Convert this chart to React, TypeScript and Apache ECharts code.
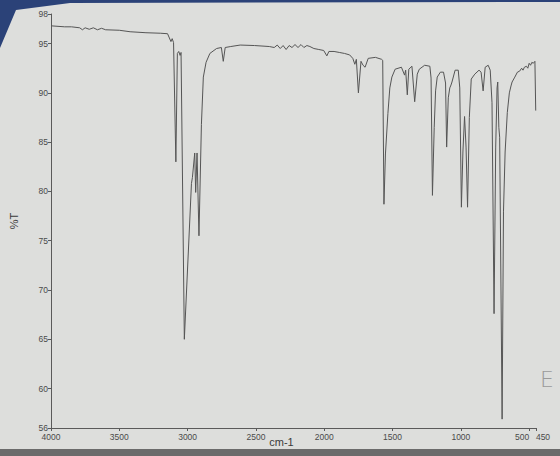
import React, { useEffect, useRef } from "react";
import * as echarts from "echarts";

const wavenumbers = [
  4000, 3900, 3850, 3790, 3770, 3750, 3720, 3690, 3660, 3630, 3600, 3500, 3421, 3305, 3200, 3147,
  3122, 3113, 3103, 3086, 3075, 3065, 3055, 3048, 3024, 2972, 2965, 2948, 2941, 2931, 2917, 2899,
  2885, 2865, 2837, 2788, 2753, 2739, 2725, 2684, 2615, 2510, 2402, 2366, 2344, 2322, 2301, 2279,
  2257, 2236, 2214, 2192, 2170, 2149, 2127, 2105, 2076, 2040, 2004, 1981, 1966, 1928, 1890, 1852,
  1814, 1791, 1776, 1765, 1750, 1731, 1716, 1701, 1678, 1625, 1580, 1572, 1563, 1552, 1534, 1520,
  1505, 1481, 1435, 1412, 1404, 1392, 1381, 1358, 1338, 1319, 1304, 1265, 1227, 1218, 1208, 1195,
  1185, 1173, 1150, 1127, 1112, 1104, 1092, 1081, 1072, 1065, 1042, 1019, 1008, 996, 985, 973,
  962, 951, 938, 924, 898, 867, 852, 837, 822, 800, 785, 772, 757, 745, 735, 730,
  722, 716, 698, 688, 676, 660, 645, 633, 625, 605, 586, 570, 555, 545, 535, 520,
  510, 500, 490, 480, 470, 458, 452, 450,
];

const transmittance = [
  96.8, 96.7, 96.7, 96.6, 96.4, 96.6, 96.45, 96.6, 96.4, 96.55, 96.4, 96.35, 96.2, 96.1, 96.05, 96.0,
  95.2, 95.5, 95.1, 83.0, 94.0, 94.2, 93.8, 94.1, 65.0, 80.8, 81.4, 83.9, 79.9, 83.9, 75.5, 86.8,
  91.6, 93.1, 94.0, 94.5, 94.6, 93.2, 94.6, 94.7, 94.85, 94.8, 94.7, 94.6, 94.85, 94.5, 94.8, 94.4,
  94.8, 94.6, 94.9, 94.6, 94.9, 94.6, 94.8, 94.7, 94.5, 94.4, 94.3, 93.75, 94.2, 94.2, 94.1, 94.0,
  93.85, 93.5, 92.9, 93.4, 90.0, 93.2, 92.8, 92.6, 93.5, 93.6, 93.4, 93.3, 78.7, 83.8, 87.9, 90.5,
  91.6, 92.4, 92.6, 91.8, 92.3, 89.8, 92.4, 92.7, 89.1, 91.9, 92.4, 92.8, 92.7, 91.5, 79.6, 86.5,
  90.2, 91.6, 92.1, 92.1, 91.0, 84.5, 89.5, 90.5, 90.8, 91.1, 92.3, 92.3, 90.5, 78.4, 84.0, 87.6,
  84.5, 78.4, 87.5, 91.4, 91.9, 92.3, 92.1, 90.2, 92.6, 92.8, 92.3, 89.0, 67.6, 84.5, 90.5, 91.1,
  86.5, 85.5, 56.9, 78.0, 84.0, 88.0, 90.0, 90.7, 91.1, 91.6, 92.1, 92.2, 92.5, 92.3, 92.6, 92.7,
  92.5, 93.0, 92.8, 93.1, 93.0, 93.2, 88.2, 88.2,
];

const xTickValues = [4000, 3500, 3000, 2500, 2000, 1500, 1000, 500, 450];
const yTickValues = [56, 60, 65, 70, 75, 80, 85, 90, 95, 98];

const labelColor = "#4a4a4a";
const axisColor = "#5a5a5a";

export default function App() {
  const ref = useRef<HTMLDivElement>(null);

  useEffect(() => {
    if (!ref.current) return;
    const chart = echarts.init(ref.current, undefined, { renderer: "svg" });
    const data = wavenumbers.map((w, i) => [w, transmittance[i]]);
    const labelFont = { fontFamily: "Liberation Sans", fontSize: 8.5, color: labelColor };
    chart.setOption({
      animation: false,
      backgroundColor: "#dddedc",
      grid: { left: 48, right: 24, top: 14, bottom: 28, containLabel: false },
      xAxis: {
        type: "value",
        min: 450,
        max: 4000,
        inverse: true,
        name: "cm-1",
        nameLocation: "middle",
        nameGap: 8,
        nameMoveOverlap: false,
        nameTextStyle: { fontFamily: "Liberation Sans", fontSize: 11, color: "#3a3a3a", padding: [0, 24, 0, 0] },
        splitLine: { show: false },
        axisLine: { lineStyle: { color: axisColor, width: 1 } },
        axisTick: { customValues: xTickValues, length: 3, lineStyle: { color: axisColor } },
        axisLabel: {
          customValues: xTickValues,
          margin: 4,
          ...labelFont,
          formatter: (v: number) =>
            v === 500 ? "{a|500}" : v === 450 ? "{b|450}" : String(v),
          rich: {
            a: { ...labelFont, padding: [0, 14, 0, 0] },
            b: { ...labelFont, padding: [0, 0, 0, 14] },
          },
        },
      },
      yAxis: {
        type: "value",
        min: 56,
        max: 98,
        name: "%T",
        nameLocation: "middle",
        nameGap: 32,
        nameMoveOverlap: false,
        nameTextStyle: { fontFamily: "Liberation Sans", fontSize: 11, color: "#3a3a3a" },
        splitLine: { show: false },
        axisLine: { show: true, lineStyle: { color: axisColor, width: 1 } },
        axisTick: { show: true, customValues: yTickValues, length: 3, lineStyle: { color: axisColor } },
        axisLabel: { customValues: yTickValues, margin: 3, ...labelFont },
      },
      graphic: [
        {
          type: "polygon",
          shape: { points: [[0, 0], [560, 0], [560, 2], [70, 3], [16, 10], [0, 48]] },
          style: { fill: "#2b4278" },
          silent: true,
        },
        {
          type: "rect",
          shape: { x: 0, y: 449, width: 560, height: 7 },
          style: { fill: "#6b6b6b" },
          silent: true,
        },
        {
          type: "text",
          x: 540,
          y: 368,
          style: { text: "E", fontFamily: "DejaVu Sans", fontSize: 22, fill: "#9a9a9a", fontWeight: "lighter" },
          silent: true,
        },
      ],
      series: [
        {
          type: "line",
          data,
          showSymbol: false,
          symbol: "none",
          lineStyle: { color: "#555555", width: 1 },
          silent: true,
        },
      ],
    });
    return () => chart.dispose();
  }, []);

  return (
    <div
      ref={ref}
      style={{ position: "absolute", left: 0, top: 0, width: 560, height: 456 }}
    />
  );
}
